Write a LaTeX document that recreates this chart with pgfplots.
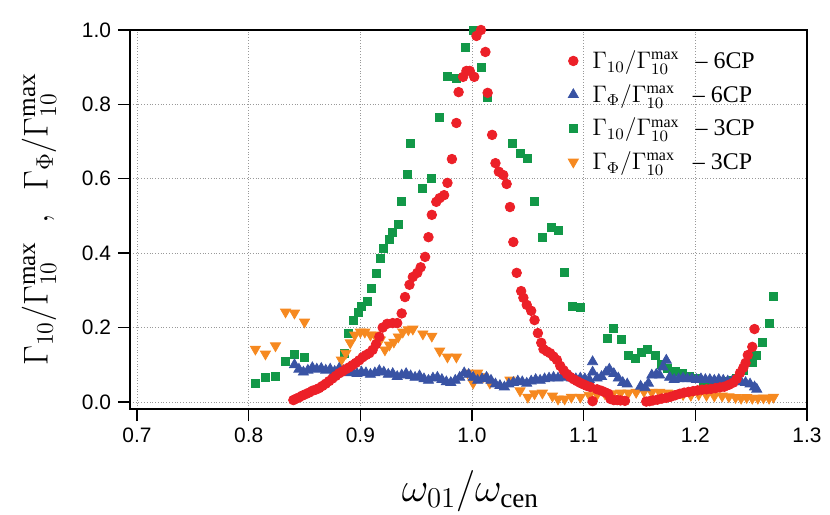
\documentclass[border=0pt]{standalone}
\usepackage{pgfplots}
\pgfplotsset{compat=1.18}
\usepackage{fontspec}
\setmainfont{Liberation Serif}
\newfontfamily\arialfont{Liberation Sans}
\definecolor{cred}{RGB}{236,32,40}
\definecolor{cblue}{RGB}{57,83,164}
\definecolor{cgreen}{RGB}{18,152,72}
\definecolor{corange}{RGB}{246,137,32}
\begin{document}
\begin{tikzpicture}
\begin{axis}[
  scale only axis,
  width=338.5bp, height=189.5bp,
  xmin=0.6937, xmax=1.3, ymin=-0.019, ymax=1.0,
  xtick={0.7,0.8,...,1.31}, ytick={0,0.2,...,1.01},
  tick align=outside, xtick pos=bottom, ytick pos=left,
  major tick length=6bp,
  tick style={black, line width=0.7pt},
  axis line style={black, line width=0.7pt},
  grid=major,
  grid style={densely dotted, gray!80, line width=0.4pt},
  ticklabel style={font=\arialfont\fontsize{10.5}{12}\selectfont},
  /pgf/number format/assume math mode=true,
  xticklabel style={/pgf/number format/.cd, fixed, fixed zerofill, precision=1},
  yticklabel style={/pgf/number format/.cd, fixed, fixed zerofill, precision=1},
  xlabel={$\omega_{01}/\omega_{\mathrm{cen}}$},
  ylabel={$\Gamma_{10}/\Gamma_{10}^{\mathrm{max}}\ \ ,\ \ \Gamma_{\Phi}/\Gamma_{10}^{\mathrm{max}}$},
  ylabel style={font=\fontsize{18}{20}\selectfont},
  xlabel style={font=\fontsize{19.5}{21}\selectfont, yshift=-7bp, xshift=1bp},
  ylabel shift=6bp,
  legend style={draw=none, fill=none, at={(rel axis cs:0.638,0.968)}, anchor=north west,
    font=\fontsize{12}{14}\selectfont, row sep=2.4bp},
  legend cell align=left,
]
\addlegendimage{only marks, mark=*, mark size=2.4bp, color=cred}
\addlegendentry{\hspace{5bp}$\Gamma_{10}/\Gamma_{10}^{\mathrm{max}}$\hspace{8bp}-- 6CP}
\addlegendimage{only marks, mark=triangle*, mark size=2.9bp, color=cblue}
\addlegendentry{\hspace{5bp}$\Gamma_{\Phi}/\Gamma_{10}^{\mathrm{max}}$\hspace{9bp}-- 6CP}
\addlegendimage{only marks, mark=square*, mark size=2bp, color=cgreen}
\addlegendentry{\hspace{5bp}$\Gamma_{10}/\Gamma_{10}^{\mathrm{max}}$\hspace{8bp}-- 3CP}
\addlegendimage{only marks, mark=triangle*, mark size=2.9bp, color=corange, mark options={rotate=180}}
\addlegendentry{\hspace{5bp}$\Gamma_{\Phi}/\Gamma_{10}^{\mathrm{max}}$\hspace{9bp}-- 3CP}

% green: Gamma10 3CP
\addplot[forget plot, only marks, mark=square*, mark size=2bp, color=cgreen] table {
0.806 0.051
0.815 0.065
0.824 0.070
0.833 0.108
0.841 0.129
0.850 0.121
0.886 0.131
0.889 0.185
0.894 0.220
0.898 0.242
0.901 0.258
0.906 0.270
0.910 0.304
0.914 0.346
0.918 0.386
0.921 0.412
0.926 0.437
0.929 0.457
0.934 0.478
0.937 0.540
0.942 0.613
0.945 0.694
0.956 0.575
0.964 0.602
0.971 0.766
0.978 0.874
0.986 0.871
0.994 0.954
1.001 1.000
1.008 0.900
1.014 0.820
1.036 0.694
1.043 0.669
1.050 0.656
1.056 0.538
1.063 0.443
1.071 0.470
1.077 0.460
1.083 0.347
1.090 0.258
1.097 0.255
1.121 0.172
1.127 0.199
1.134 0.167
1.140 0.124
1.146 0.116
1.152 0.132
1.157 0.142
1.164 0.124
1.170 0.100
1.175 0.089
1.182 0.083
1.188 0.078
1.195 0.070
1.201 0.062
1.207 0.050
1.214 0.050
1.220 0.052
1.226 0.054
1.232 0.058
1.237 0.064
1.243 0.086
1.251 0.105
1.255 0.124
1.260 0.161
1.266 0.212
1.270 0.283
};
% orange: GammaPhi 3CP
\addplot[forget plot, only marks, mark=triangle*, mark size=2.9bp, color=corange, mark options={rotate=180}] table {
0.806 0.142
0.815 0.129
0.824 0.151
0.833 0.242
0.841 0.239
0.850 0.215
0.883 0.113
0.887 0.131
0.891 0.159
0.895 0.180
0.900 0.188
0.904 0.188
0.909 0.180
0.913 0.180
0.918 0.167
0.922 0.140
0.926 0.153
0.930 0.161
0.934 0.175
0.938 0.188
0.943 0.194
0.947 0.196
0.956 0.183
0.964 0.177
0.971 0.137
0.978 0.121
0.986 0.121
0.996 0.078
1.001 0.051
1.005 0.078
1.010 0.068
1.016 0.051
1.034 0.059
1.043 0.030
1.050 0.013
1.056 0.022
1.063 0.024
1.072 0.016
1.077 0.008
1.083 0.008
1.089 0.013
1.097 0.013
1.105 0.018
1.112 0.020
1.119 0.022
1.126 0.022
1.133 0.024
1.140 0.024
1.147 0.026
1.154 0.028
1.161 0.026
1.168 0.026
1.175 0.024
1.182 0.022
1.189 0.020
1.196 0.018
1.203 0.020
1.210 0.018
1.217 0.016
1.224 0.016
1.230 0.014
1.236 0.012
1.241 0.010
1.246 0.012
1.251 0.010
1.256 0.010
1.261 0.011
1.266 0.010
1.270 0.013
};
% blue: GammaPhi 6CP
\addplot[forget plot, only marks, mark=triangle*, mark size=2.9bp, color=cblue] table {
0.841 0.100
0.845 0.088
0.849 0.080
0.853 0.085
0.857 0.092
0.861 0.088
0.865 0.090
0.869 0.085
0.873 0.088
0.877 0.082
0.881 0.090
0.885 0.084
0.889 0.078
0.893 0.082
0.897 0.076
0.901 0.080
0.905 0.078
0.909 0.074
0.913 0.078
0.917 0.084
0.921 0.080
0.925 0.074
0.929 0.076
0.933 0.068
0.937 0.072
0.941 0.076
0.945 0.070
0.949 0.066
0.953 0.070
0.957 0.062
0.961 0.058
0.965 0.064
0.969 0.066
0.973 0.060
0.977 0.054
0.981 0.052
0.985 0.058
0.989 0.066
0.993 0.078
0.997 0.074
1.001 0.066
1.005 0.058
1.009 0.062
1.013 0.066
1.017 0.058
1.021 0.048
1.025 0.044
1.029 0.040
1.033 0.048
1.037 0.052
1.041 0.056
1.045 0.054
1.049 0.050
1.053 0.056
1.057 0.060
1.061 0.058
1.065 0.062
1.069 0.064
1.073 0.066
1.077 0.064
1.081 0.068
1.085 0.066
1.089 0.064
1.093 0.062
1.097 0.064
1.101 0.062
1.105 0.060
1.108 0.108
1.108 0.080
1.112 0.064
1.116 0.068
1.120 0.080
1.123 0.088
1.127 0.076
1.131 0.064
1.135 0.052
1.139 0.048
1.151 0.042
1.155 0.038
1.158 0.050
1.161 0.072
1.165 0.074
1.168 0.072
1.171 0.094
1.174 0.112
1.177 0.066
1.181 0.060
1.185 0.062
1.189 0.064
1.193 0.062
1.197 0.062
1.201 0.060
1.205 0.062
1.209 0.060
1.213 0.060
1.217 0.058
1.221 0.060
1.225 0.058
1.229 0.056
1.233 0.056
1.237 0.054
1.241 0.054
1.245 0.052
1.249 0.048
1.253 0.040
1.255 0.034
};
% red: Gamma10 6CP
\addplot[forget plot, only marks, mark=*, mark size=2.4bp, color=cred] table {
0.840 0.005
0.842 0.008
0.845 0.012
0.848 0.017
0.851 0.021
0.854 0.025
0.857 0.030
0.860 0.033
0.863 0.037
0.866 0.043
0.869 0.049
0.872 0.056
0.875 0.063
0.878 0.070
0.881 0.077
0.884 0.082
0.887 0.088
0.890 0.093
0.893 0.099
0.896 0.105
0.899 0.112
0.902 0.120
0.905 0.126
0.908 0.131
0.911 0.140
0.914 0.155
0.917 0.175
0.920 0.200
0.924 0.210
0.929 0.212
0.933 0.212
0.937 0.238
0.940 0.282
0.944 0.315
0.947 0.336
0.951 0.347
0.954 0.362
0.958 0.390
0.961 0.443
0.964 0.503
0.968 0.538
0.971 0.548
0.975 0.556
0.978 0.589
0.982 0.653
0.986 0.750
0.988 0.833
0.992 0.874
0.995 0.890
0.998 0.890
1.002 0.874
1.004 0.984
1.008 1.000
1.012 0.941
1.014 0.831
1.018 0.718
1.021 0.642
1.024 0.619
1.028 0.610
1.031 0.586
1.034 0.524
1.037 0.430
1.040 0.347
1.044 0.298
1.046 0.280
1.049 0.261
1.053 0.245
1.056 0.220
1.059 0.185
1.062 0.159
1.064 0.142
1.067 0.136
1.070 0.131
1.073 0.122
1.076 0.113
1.079 0.097
1.082 0.085
1.085 0.075
1.088 0.067
1.091 0.061
1.094 0.056
1.097 0.051
1.100 0.047
1.103 0.043
1.106 0.040
1.108 0.002
1.112 0.034
1.116 0.030
1.119 0.026
1.122 0.022
1.124 0.008
1.127 0.005
1.130 0.005
1.133 0.004
1.137 0.003
1.156 0.001
1.159 0.002
1.162 0.004
1.166 0.006
1.170 0.009
1.174 0.011
1.178 0.014
1.182 0.018
1.186 0.022
1.190 0.025
1.194 0.027
1.198 0.029
1.202 0.031
1.206 0.033
1.210 0.034
1.214 0.035
1.218 0.037
1.222 0.039
1.226 0.041
1.230 0.046
1.234 0.052
1.237 0.062
1.240 0.078
1.243 0.092
1.245 0.105
1.247 0.126
1.251 0.148
1.253 0.196
};
\end{axis}
\pgfresetboundingbox
\path[use as bounding box] ([xshift=-65bp,yshift=-53bp]current axis.south west) rectangle ([xshift=11.5bp,yshift=15bp]current axis.north east);
\end{tikzpicture}
\end{document}
